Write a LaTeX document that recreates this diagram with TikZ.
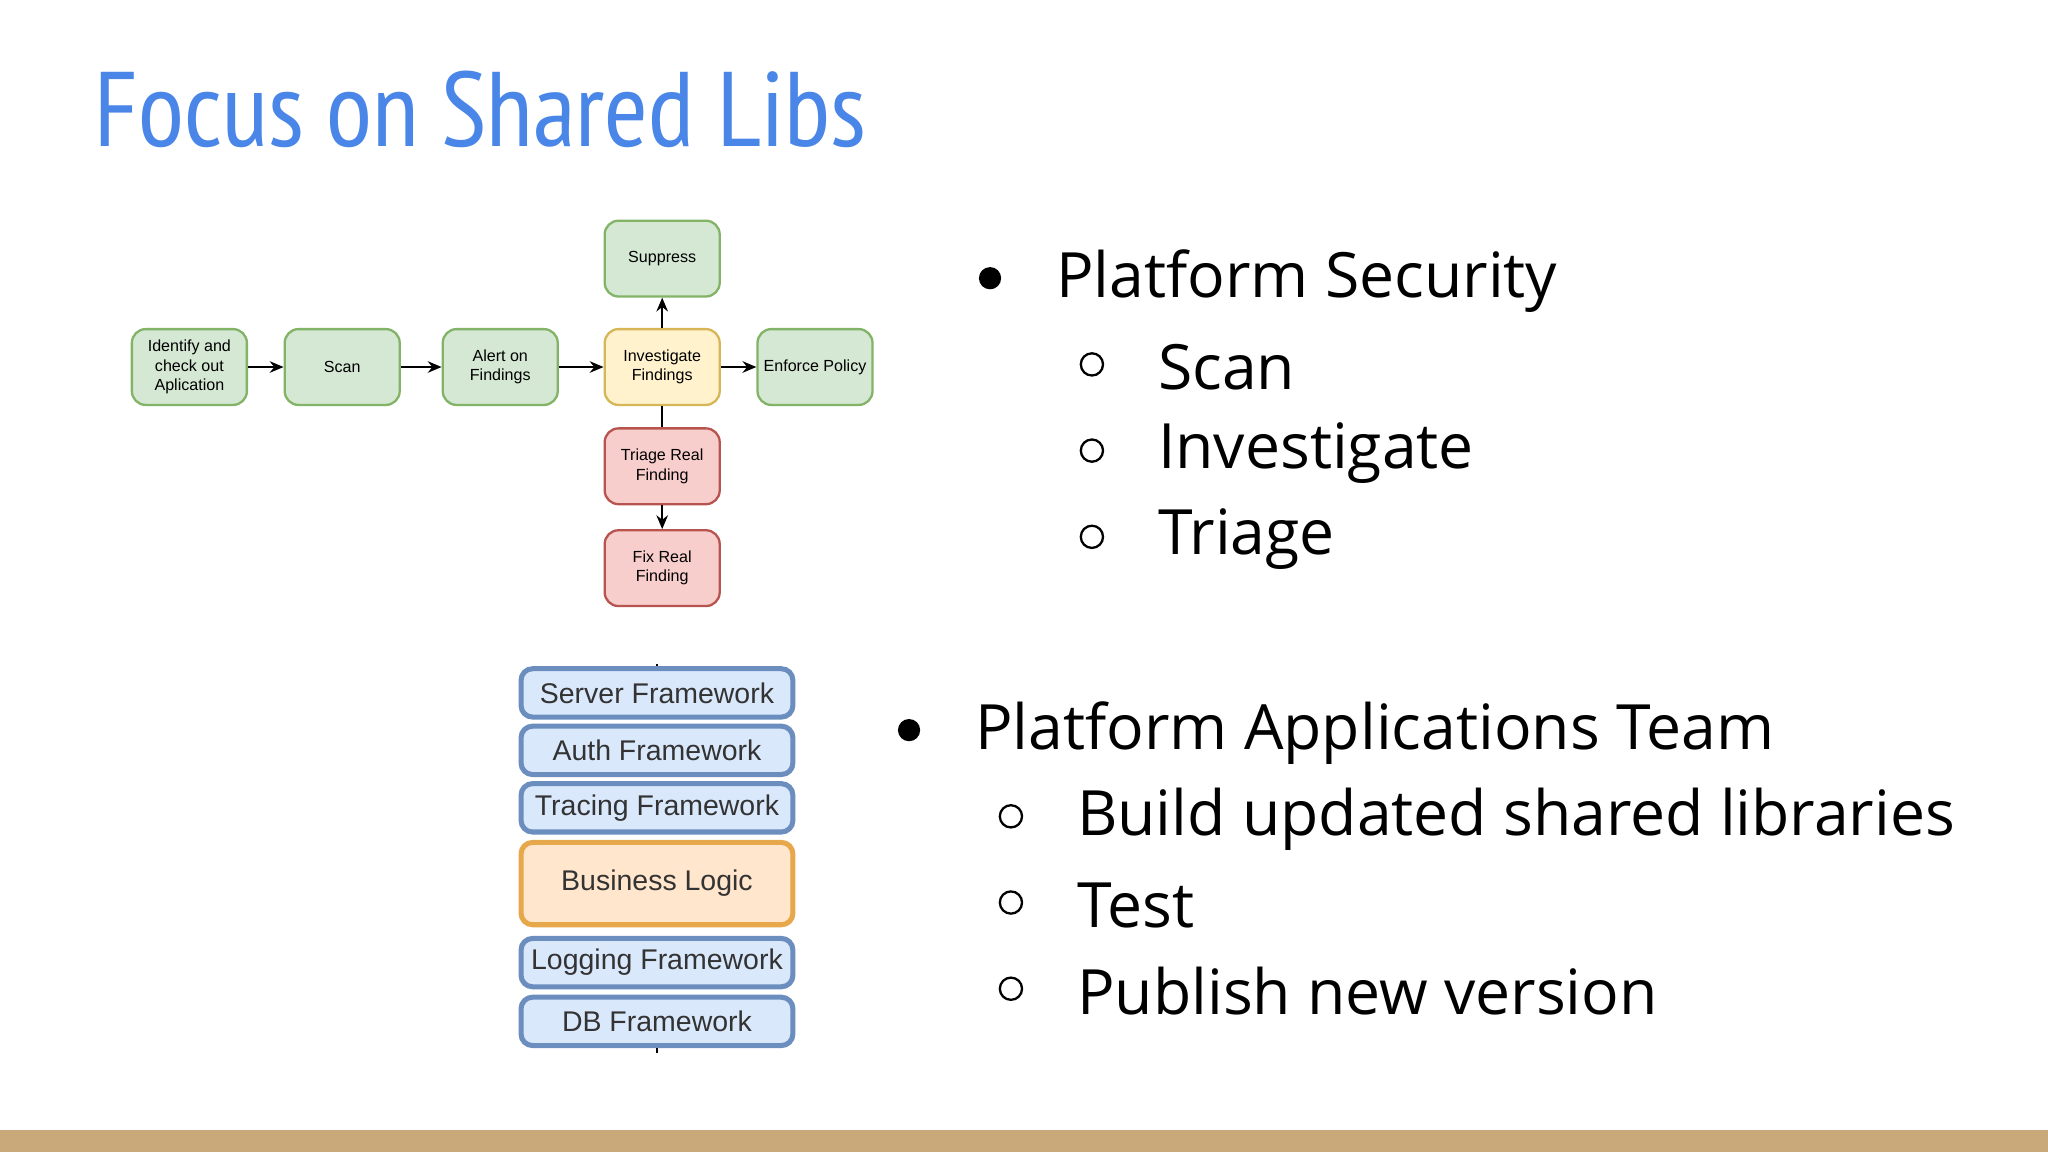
\documentclass[tikz,border=0pt]{standalone}
\usepackage{fontspec}
\setmainfont{Open Sans}
\newfontfamily\arialf{Liberation Sans}
\newfontfamily\titlef{PT Sans Narrow}
\usetikzlibrary{arrows.meta}
\definecolor{ttl}{HTML}{4A86E8}
\definecolor{gf}{HTML}{D5E8D4}\definecolor{gd}{HTML}{82B366}
\definecolor{yf}{HTML}{FFF2CC}\definecolor{yd}{HTML}{D6B656}
\definecolor{rf}{HTML}{F8CECC}\definecolor{rd}{HTML}{B85450}
\definecolor{bf}{HTML}{DAE8FC}\definecolor{bd}{HTML}{6C8EBF}
\definecolor{of}{HTML}{FFE6CC}\definecolor{od}{HTML}{E6A84B}
\definecolor{band}{HTML}{C9A97A}
\begin{document}
\begin{tikzpicture}[x=0.01cm,y=-0.01cm,
 fb/.style={draw,rounded corners=3pt,line width=0.5pt,minimum width=0.88cm,minimum height=0.58cm,align=center,font=\arialf\fontsize{3.5}{4.2}\selectfont,inner sep=1pt},
 gb/.style={fb,fill=gf,draw=gd},yb/.style={fb,fill=yf,draw=yd},rb/.style={fb,fill=rf,draw=rd},
 sb/.style={draw=bd,fill=bf,rounded corners=2.5pt,line width=1.1pt,minimum width=2.08cm,minimum height=0.37cm,font=\arialf\fontsize{6.2}{7}\selectfont,text=black!80,inner sep=0pt},
 ar/.style={-{Stealth[length=3pt,width=2.5pt]},line width=0.5pt},
 bl/.style={anchor=west,inner sep=0pt,font=\fontsize{13.6}{16}\selectfont},
 dot/.style={circle,fill=black,inner sep=0pt,minimum size=0.17cm},
 ring/.style={circle,draw=black,line width=0.5pt,inner sep=0pt,minimum size=0.17cm}]
\useasboundingbox[fill=white] (0,0) rectangle (1568,882);
\fill[band] (0,865) rectangle (1568,882);
\node[anchor=west,text=ttl,inner sep=0] (title) at (72,84) {\resizebox{5.9cm}{!}{\titlef\fontsize{30}{32}\selectfont Focus on Shared Libs}};
% flowchart
\node[gb] (id) at (145,281) {Identify and\\check out\\Aplication};
\node[gb] (scan) at (262,281) {Scan};
\node[gb] (alert) at (383,281) {Alert on\\Findings};
\node[yb] (inv) at (507,281) {Investigate\\Findings};
\node[gb] (enf) at (624,281) {Enforce Policy};
\node[gb] (sup) at (507,198) {Suppress};
\node[rb] (tri) at (507,357) {Triage Real\\Finding};
\node[rb] (fix) at (507,435) {Fix Real\\Finding};
\draw[ar] (id) -- (scan);
\draw[ar] (scan) -- (alert);
\draw[ar] (alert) -- (inv);
\draw[ar] (inv) -- (enf);
\draw[ar] (inv) -- (sup);
\draw[line width=0.5pt] (inv) -- (tri);
\draw[ar] (tri) -- (fix);
% stack
\node[sb] (s1) at (503,530.5) {Server Framework};
\node[sb] (s2) at (503,574.5) {Auth Framework};
\node[sb] (s3) at (503,618.5) {Tracing Framework};
\node[sb,fill=of,draw=od,minimum height=0.63cm] (s4) at (503,676.5) {Business Logic};
\node[sb] (s5) at (503,737) {Logging Framework};
\node[sb] (s6) at (503,782) {DB Framework};
\coordinate (t1) at (503,508);\coordinate (t2) at (503,806);
\draw[line width=0.6pt] (t1) -- (s1.north);
\draw[line width=0.6pt] (s6.south) -- (t2);
% bullets
\node[dot] (b1) at (758,213) {};
\node[bl] (p1) at (808,215) {Platform Security};
\node[ring] (c1) at (836,279) {};\node[bl] (q1) at (886,281) {Scan};
\node[ring] (c2) at (836,345) {};\node[bl] (q2) at (886,347) {Investigate};
\node[ring] (c3) at (836,411) {};\node[bl] (q3) at (886,413) {Triage};
\node[dot] (b2) at (696,559) {};
\node[bl] (p2) at (746,561) {Platform Applications Team};
\node[ring] (c4) at (774,625) {};\node[bl] (q4) at (824,627) {Build updated shared libraries};
\node[ring] (c5) at (774,691) {};\node[bl] (q5) at (824,693) {Test};
\node[ring] (c6) at (774,757) {};\node[bl] (q6) at (824,759) {Publish new version};
\end{tikzpicture}
\end{document}
